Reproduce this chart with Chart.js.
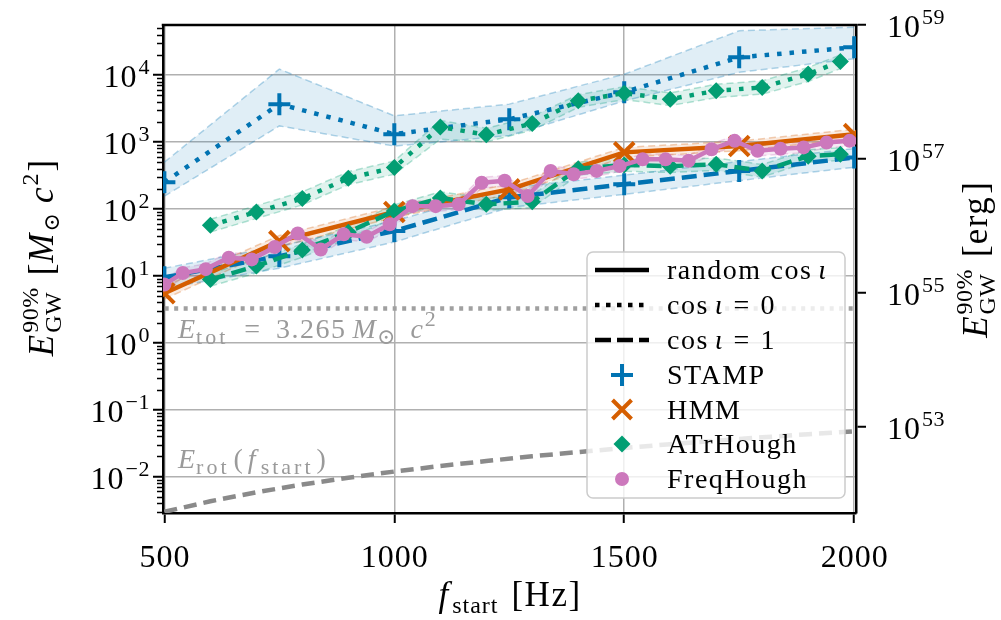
<!DOCTYPE html>
<html><head><meta charset="utf-8">
<script src="https://cdn.jsdelivr.net/npm/chart.js@4/dist/chart.umd.min.js"></script>
<style>html,body{margin:0;padding:0;background:#fff}#c{display:block}</style>
</head><body>
<canvas id="c" width="1001" height="620"></canvas>
<script>
// ---------- data ----------
const xTicks = [500, 1000, 1500, 2000];
const yTickExps = [-2, -1, 0, 1, 2, 3, 4];
const ergTickExps = [53, 55, 57, 59];
const ergPerMsunC2 = 1.787e54;
const xMin = 497, xMax = 2004, yMin = 2.86e-3, yMax = 5.6e4;

const stampFreq = [500, 750, 1000, 1250, 1500, 1750, 2000];
const stampCos0 = [250, 3680, 1310, 2190, 5560, 18400, 26000];
const stampCos0Lo = [155, 1740, 870, 1250, 4100, 11000, 17500];
const stampCos0Hi = [500, 12300, 2460, 3680, 10300, 46000, 52000];
const stampCos1 = [9.5, 19.7, 46.7, 149, 233, 369, 586];
const stampCos1Lo = [6.5, 13, 32, 105, 165, 265, 420];
const stampCos1Hi = [13, 28, 66, 205, 320, 510, 800];

const hmmFreq = [500, 750, 1000, 1250, 1500, 1750, 2000];
const hmmRand = [5.5, 33, 90, 196, 700, 870, 1310];
const hmmLo = [4.5, 27, 75, 165, 590, 740, 1120];
const hmmHi = [7, 40, 108, 235, 830, 1030, 1550];

const atrFreq = [600, 700, 800, 900, 1000, 1100, 1200, 1300, 1400, 1500, 1600, 1700, 1800, 1900, 1970];
const atrCos0 = [57, 90, 143, 287, 415, 1680, 1280, 1890, 4120, 5370, 4370, 5820, 6540, 10350, 16000];
const atrCos0Lo = [45, 72, 115, 230, 330, 1100, 1000, 1500, 3300, 4300, 3500, 4600, 5200, 8000, 12500];
const atrCos0Hi = [70, 112, 180, 360, 520, 2100, 1600, 2400, 5100, 6700, 5400, 7300, 8200, 13000, 20000];
const atrCos1 = [8.8, 14, 24.3, 45, 93, 145, 117, 128, 400, 455, 435, 465, 369, 615, 656];
const atrCos1Lo = [7, 11, 19, 36, 75, 115, 95, 105, 320, 365, 350, 375, 300, 500, 530];
const atrCos1Hi = [11, 17.5, 30, 56, 115, 180, 145, 160, 500, 570, 545, 580, 460, 770, 820];

const fhFreq = [500, 540, 590, 640, 690, 740, 790, 840, 890, 940, 990, 1040, 1090, 1140, 1190, 1240, 1290, 1340, 1390, 1440, 1490, 1540, 1590, 1640, 1690, 1740, 1790, 1840, 1890, 1940, 1990];
const fhRand = [7.4, 11, 12.6, 18.7, 17.6, 27, 43, 24.8, 41.7, 38.4, 59, 110, 110, 117, 246, 263, 156, 370, 330, 370, 437, 550, 550, 525, 780, 1040, 740, 790, 830, 980, 1040];
const fhLo = [6.2, 9.2, 10.5, 15.6, 14.7, 22.5, 36, 20.7, 35, 32, 49, 92, 92, 98, 205, 219, 130, 308, 275, 308, 364, 458, 458, 437, 650, 867, 617, 658, 692, 817, 867];
const fhHi = [8.9, 13.2, 15.1, 22.4, 21.1, 32.4, 52, 29.8, 50, 46, 71, 132, 132, 140, 295, 316, 187, 444, 396, 444, 524, 660, 660, 630, 936, 1248, 888, 948, 996, 1176, 1248];

const eTot = 3.265;
const eTotFreq = [480, 2020];
const eRotFreq = [500, 600, 700, 800, 900, 1000, 1100, 1200, 1300, 1400, 1500, 1600, 1700, 1800, 1900, 2000];
const eRotVal = [0.00298, 0.00428, 0.00583, 0.00762, 0.00964, 0.0119, 0.0144, 0.0171, 0.0201, 0.0233, 0.0268, 0.0305, 0.0344, 0.0386, 0.0430, 0.0476];

// ---------- styling ----------
const BLUE = '1,115,178', ORANGE = '213,94,0', GREEN = '2,158,115', PINK = '204,120,188';
const SERIF = '"Liberation Serif","DejaVu Serif",serif';
const DOT = [4.5, 8], DASH = [15, 7];

const pts = (xs, ys) => xs.map((x, i) => ({x: x, y: ys[i]}));
function band(xs, lo, hi, rgb, alpha) {
  const edge = `rgba(${rgb},0.3)`;
  return [
    {data: pts(xs, lo), borderColor: edge, borderWidth: 1.5, borderDash: [7, 4], pointRadius: 0, fill: false, order: 20},
    {data: pts(xs, hi), borderColor: edge, borderWidth: 1.5, borderDash: [7, 4], pointRadius: 0,
     fill: '-1', backgroundColor: `rgba(${rgb},${alpha})`, order: 20}
  ];
}
function series(xs, ys, rgb, dash, style, radius, pbw, order) {
  const c = `rgb(${rgb})`;
  return {data: pts(xs, ys), borderColor: c, backgroundColor: c, borderWidth: 4.5, borderDash: dash,
    pointStyle: style, pointRadius: radius, pointBorderWidth: pbw, pointBackgroundColor: c, pointBorderColor: c,
    fill: false, order: order};
}

const datasets = [
  ...band(stampFreq, stampCos0Lo, stampCos0Hi, BLUE, 0.12),
  ...band(stampFreq, stampCos1Lo, stampCos1Hi, BLUE, 0.12),
  ...band(hmmFreq, hmmLo, hmmHi, ORANGE, 0.12),
  ...band(atrFreq, atrCos0Lo, atrCos0Hi, GREEN, 0.12),
  ...band(atrFreq, atrCos1Lo, atrCos1Hi, GREEN, 0.12),
  ...band(fhFreq, fhLo, fhHi, PINK, 0.15),
  {data: pts(eTotFreq, eTotFreq.map(() => eTot)), borderColor: '#a0a0a0', borderWidth: 4.5, borderDash: [4, 5.5], pointRadius: 0, fill: false, order: 15},
  {data: pts(eRotFreq, eRotVal), borderColor: '#8a8a8a', borderWidth: 4.5, borderDash: [13, 7], pointRadius: 0, fill: false, order: 15},
  series(stampFreq, stampCos0, BLUE, DOT, 'cross', 11, 4, 6),
  series(stampFreq, stampCos1, BLUE, DASH, 'cross', 11, 4, 6),
  series(hmmFreq, hmmRand, ORANGE, [], 'crossRot', 14, 4, 5),
  series(atrFreq, atrCos0, GREEN, DOT, 'rectRot', 8.5, 0, 4),
  series(atrFreq, atrCos1, GREEN, DASH, 'rectRot', 8.5, 0, 4),
  series(fhFreq, fhRand, PINK, [], 'circle', 7, 0, 3)
];

// ---------- text helpers ----------
function layoutRuns(ctx, runs) {
  let x = 0, prevStart = 0, prevW = 0;
  const items = [];
  for (const r of runs) {
    ctx.font = r.f; ctx.letterSpacing = (r.ls || 0) + 'px';
    const w = ctx.measureText(r.t).width;
    let sx;
    if (r.stack) { sx = prevStart; prevW = Math.max(prevW, w); x = Math.max(x, sx + w); }
    else { sx = x + (r.gap || 0); x = sx + w; prevStart = sx; prevW = w; }
    items.push(Object.assign({}, r, {sx: sx}));
  }
  return {items: items, width: x};
}
function drawRuns(ctx, runs, x, y, align, color) {
  const L = layoutRuns(ctx, runs);
  const ox = align === 'center' ? x - L.width / 2 : align === 'right' ? x - L.width : x;
  ctx.textAlign = 'left'; ctx.textBaseline = 'alphabetic';
  for (const it of L.items) {
    ctx.font = it.f; ctx.letterSpacing = (it.ls || 0) + 'px';
    ctx.fillStyle = color;
    ctx.fillText(it.t, ox + it.sx, y + (it.dy || 0));
  }
  ctx.letterSpacing = '0px';
}
const F = (s, it) => (it ? 'italic ' : '') + s + 'px ' + SERIF;
const expStr = e => (e < 0 ? '\u2212' + (-e) : String(e));
const powRuns = e => [{t: '10', f: F(32), ls: 1}, {t: expStr(e), f: F(22), dy: -13, gap: 1, ls: 0.5}];

const deco = {
  id: 'deco',
  afterDraw(chart) {
    const ctx = chart.ctx, a = chart.chartArea;
    const sx = chart.scales.x, sy = chart.scales.y, sy2 = chart.scales.y2;
    ctx.save();
    // top spine
    ctx.strokeStyle = '#000'; ctx.lineWidth = 2.5;
    ctx.beginPath(); ctx.moveTo(a.left - 1.25, a.top); ctx.lineTo(a.right + 1.25, a.top); ctx.stroke();
    // minor ticks on left axis
    ctx.lineWidth = 1.5;
    for (let e = -3; e <= 4; e++) for (let k = 2; k <= 9; k++) {
      const v = k * Math.pow(10, e);
      if (v < yMin || v > yMax) continue;
      const py = Math.round(sy.getPixelForValue(v)) + 0.5;
      ctx.beginPath(); ctx.moveTo(a.left, py); ctx.lineTo(a.left - 6, py); ctx.stroke();
    }
    // x tick labels
    for (const v of xTicks) {
      drawRuns(ctx, [{t: String(v), f: F(32), ls: 1}], sx.getPixelForValue(v) + 0.5, 567, 'center', '#000');
    }
    // y tick labels
    for (const e of yTickExps) {
      drawRuns(ctx, powRuns(e), 150, sy.getPixelForValue(Math.pow(10, e)) + 12, 'right', '#000');
    }
    for (const e of ergTickExps) {
      drawRuns(ctx, powRuns(e), 887, sy2.getPixelForValue(Math.pow(10, e)) + 12, 'left', '#000');
    }
    // axis titles
    const TF = 35, TS = 24;
    const yTitle = unit => [
      {t: 'E', f: F(TF, true)},
      {t: '90%', f: F(TS), dy: -15, gap: 2, ls: 0.5},
      {t: 'GW', f: F(TS), dy: 8, stack: true, ls: 0.5},
      {t: '[', f: F(TF), gap: 12}
    ].concat(unit).concat([{t: ']', f: F(TF), gap: 2}]);
    ctx.save(); ctx.translate(53, 258); ctx.rotate(-Math.PI / 2);
    drawRuns(ctx, yTitle([{t: 'M', f: F(TF, true), gap: 1}, {t: '\u2299', f: F(22), dy: 6, gap: 2}, {t: 'c', f: F(TF, true), gap: 10}, {t: '2', f: F(TS), dy: -15, gap: 2}]), 0, 0, 'center', '#000');
    ctx.restore();
    ctx.save(); ctx.translate(987, 260); ctx.rotate(-Math.PI / 2);
    drawRuns(ctx, yTitle([{t: 'erg', f: F(TF), ls: 1.5, gap: 1}]), 0, 0, 'center', '#000');
    ctx.restore();
    drawRuns(ctx, [{t: 'f', f: F(TF, true)}, {t: 'start', f: F(TS), dy: 7, gap: 4, ls: 1}, {t: '[Hz]', f: F(TF), gap: 13, ls: 1.5}], 510, 606, 'center', '#000');
    // annotations
    const GR = '#9a9a9a', AF = 28, AS = 22;
    drawRuns(ctx, [{t: 'E', f: F(AF, true)}, {t: 'tot', f: F(AS), dy: 6, gap: 1, ls: 3},
      {t: '=', f: F(AF), gap: 16}, {t: '3.265', f: F(AF), gap: 16, ls: 1.5},
      {t: 'M', f: F(AF, true), gap: 6}, {t: '\u2299', f: F(22), dy: 6, gap: 1}, {t: 'c', f: F(AF, true), gap: 15}, {t: '2', f: F(AS), dy: -12, gap: 2}],
      178, 338, 'left', GR);
    drawRuns(ctx, [{t: 'E', f: F(AF, true)}, {t: 'rot', f: F(AS), dy: 6, gap: 1, ls: 3},
      {t: '(', f: F(AF), gap: 4}, {t: 'f', f: F(AF, true), gap: 5}, {t: 'start', f: F(AS), dy: 6, gap: 5, ls: 3}, {t: ')', f: F(AF), gap: 3}],
      178, 468, 'left', GR);
    // legend
    ctx.beginPath(); ctx.roundRect(587, 252, 258, 246, 6);
    ctx.fillStyle = 'rgba(255,255,255,0.8)'; ctx.fill();
    ctx.strokeStyle = '#cccccc'; ctx.lineWidth = 1.5; ctx.stroke();
    const rows = [270, 305, 340, 375, 409.5, 444, 479];
    const LF = F(28), LFI = F(28, true), LS = 1.5;
    const texts = [
      [{t: 'random', f: LF, ls: LS}, {t: 'cos', f: LF, ls: LS, gap: 9}, {t: '\u03b9', f: LFI, gap: 6}],
      [{t: 'cos', f: LF, ls: LS}, {t: '\u03b9', f: LFI, gap: 6}, {t: '=', f: LF, gap: 11}, {t: '0', f: LF, gap: 11}],
      [{t: 'cos', f: LF, ls: LS}, {t: '\u03b9', f: LFI, gap: 6}, {t: '=', f: LF, gap: 11}, {t: '1', f: LF, gap: 11}],
      [{t: 'STAMP', f: LF, ls: LS}],
      [{t: 'HMM', f: LF, ls: LS}],
      [{t: 'ATrHough', f: LF, ls: LS}],
      [{t: 'FreqHough', f: LF, ls: LS}]
    ];
    texts.forEach((r, i) => drawRuns(ctx, r, 667, rows[i] + 9, 'left', '#000'));
    const dashes = [[], [4.5, 6.5], [16, 6]];
    ctx.strokeStyle = '#000'; ctx.lineWidth = 4.5; ctx.lineCap = 'butt';
    dashes.forEach((d, i) => { ctx.setLineDash(d); ctx.beginPath(); ctx.moveTo(595, rows[i]); ctx.lineTo(649, rows[i]); ctx.stroke(); });
    ctx.setLineDash([]);
    const mx = 622;
    ctx.strokeStyle = `rgb(${BLUE})`; ctx.lineWidth = 4;
    ctx.beginPath(); ctx.moveTo(mx - 11, rows[3]); ctx.lineTo(mx + 11, rows[3]); ctx.moveTo(mx, rows[3] - 11); ctx.lineTo(mx, rows[3] + 11); ctx.stroke();
    ctx.strokeStyle = `rgb(${ORANGE})`;
    ctx.beginPath(); ctx.moveTo(mx - 9.5, rows[4] - 9.5); ctx.lineTo(mx + 9.5, rows[4] + 9.5); ctx.moveTo(mx - 9.5, rows[4] + 9.5); ctx.lineTo(mx + 9.5, rows[4] - 9.5); ctx.stroke();
    ctx.fillStyle = `rgb(${GREEN})`;
    ctx.beginPath(); ctx.moveTo(mx - 8.5, rows[5]); ctx.lineTo(mx, rows[5] - 8.5); ctx.lineTo(mx + 8.5, rows[5]); ctx.lineTo(mx, rows[5] + 8.5); ctx.closePath(); ctx.fill();
    ctx.fillStyle = `rgb(${PINK})`;
    ctx.beginPath(); ctx.arc(mx, rows[6], 7, 0, Math.PI * 2); ctx.fill();
    ctx.restore();
  }
};

const gridOpts = {color: '#b0b0b0', lineWidth: 1.5, tickLength: 10, tickColor: '#000', tickWidth: 2};
new Chart(document.getElementById('c'), {
  type: 'line',
  data: {datasets: datasets},
  options: {
    responsive: false, animation: false, devicePixelRatio: 1,
    layout: {padding: {top: 25, left: 0, right: 0, bottom: 0}},
    elements: {line: {tension: 0, borderCapStyle: 'butt'}},
    plugins: {legend: {display: false}, tooltip: {enabled: false}},
    scales: {
      x: {type: 'linear', min: xMin, max: xMax, bounds: 'data',
        afterBuildTicks: s => { s.ticks = xTicks.map(v => ({value: v})); },
        afterFit: s => { s.height = 107; },
        ticks: {display: false}, grid: gridOpts, border: {color: '#000', width: 2.5}},
      y: {type: 'logarithmic', position: 'left', min: yMin, max: yMax, bounds: 'data',
        afterBuildTicks: s => { s.ticks = yTickExps.map(e => ({value: Math.pow(10, e)})); },
        afterFit: s => { s.width = 163; },
        ticks: {display: false}, grid: gridOpts, border: {color: '#000', width: 2.5}},
      y2: {type: 'logarithmic', position: 'right', min: yMin * ergPerMsunC2, max: yMax * ergPerMsunC2, bounds: 'data',
        afterBuildTicks: s => { s.ticks = ergTickExps.map(e => ({value: Math.pow(10, e)})); },
        afterFit: s => { s.width = 145; },
        ticks: {display: false}, grid: Object.assign({}, gridOpts, {drawOnChartArea: false}), border: {color: '#000', width: 2.5}}
    }
  },
  plugins: [deco]
});
</script>
</body></html>
